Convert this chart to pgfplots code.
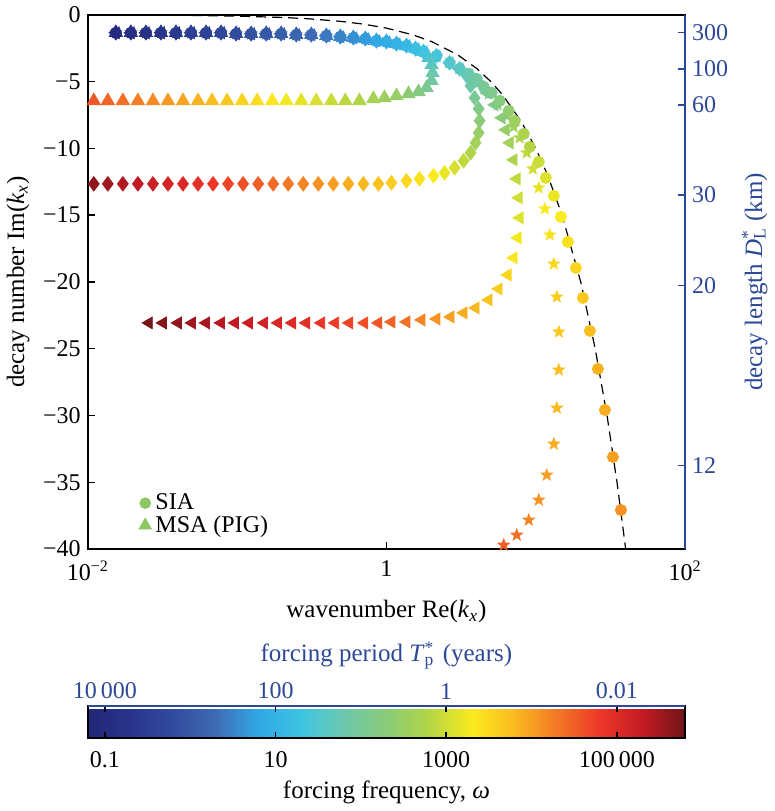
\documentclass[border=0pt]{standalone}
\usepackage{fontspec}
\setmainfont{Liberation Serif}
\usepackage{pgfplots}
\usepackage{pgfplotstable}
\pgfplotsset{compat=1.18}

\definecolor{axblue}{RGB}{45,72,150}
\definecolor{lgreen}{RGB}{140,200,100}

\pgfdeclareplotmark{fstar}{%
  \pgfpathmoveto{\pgfpointpolar{90}{\pgfplotmarksize}}%
  \pgfpathlineto{\pgfpointpolar{126}{0.42\pgfplotmarksize}}%
  \pgfpathlineto{\pgfpointpolar{162}{\pgfplotmarksize}}%
  \pgfpathlineto{\pgfpointpolar{198}{0.42\pgfplotmarksize}}%
  \pgfpathlineto{\pgfpointpolar{234}{\pgfplotmarksize}}%
  \pgfpathlineto{\pgfpointpolar{270}{0.42\pgfplotmarksize}}%
  \pgfpathlineto{\pgfpointpolar{306}{\pgfplotmarksize}}%
  \pgfpathlineto{\pgfpointpolar{342}{0.42\pgfplotmarksize}}%
  \pgfpathlineto{\pgfpointpolar{18}{\pgfplotmarksize}}%
  \pgfpathlineto{\pgfpointpolar{54}{0.42\pgfplotmarksize}}%
  \pgfpathclose
  \pgfusepathqfillstroke
}

\pgfplotsset{
  colormap={rsmap}{
    rgb255=(35,38,120) rgb255=(40,52,138) rgb255=(50,75,157) rgb255=(62,108,180)
    rgb255=(48,168,230) rgb255=(62,196,226) rgb255=(108,200,172) rgb255=(138,203,120)
    rgb255=(180,213,68) rgb255=(250,235,30) rgb255=(249,185,31) rgb255=(243,120,38)
    rgb255=(237,55,40) rgb255=(195,26,36) rgb255=(110,20,25)
  },
  sc/.style={scatter, only marks, point meta=explicit,
    scatter/use mapped color={draw=mapped color, fill=mapped color}, forget plot},
}

% shared low-frequency branch (all cases)
\pgfplotstableread{
x y c
0.015415 -1.348 -1.0
0.019434 -1.348 -0.9
0.024505 -1.348 -0.8
0.030903 -1.348 -0.7
0.038962 -1.348 -0.6
0.049118 -1.348 -0.5
0.061930 -1.348 -0.4
0.078088 -1.348 -0.3
0.098469 -1.423 -0.2
0.12417 -1.423 -0.1
0.15656 -1.423 0.0
0.19737 -1.423 0.1
0.24889 -1.498 0.2
0.31380 -1.498 0.3
0.39568 -1.573 0.4
0.49118 -1.648 0.5
0.60050 -1.723 0.6
0.72277 -1.798 0.7
0.85663 -1.948 0.8
1.0 -2.022 0.9
1.1674 -2.172 1.0
1.3621 -2.322 1.1
1.5656 -2.547 1.2
1.7713 -2.772 1.3
}\toprow

% MSA (PIG): up triangles
\pgfplotstableread{
x y c
1.9136 -3.221 1.45
2.0045 -3.745 1.6
2.0356 -4.345 1.75
2.0045 -4.944 1.9
1.8554 -5.468 2.05
1.6400 -5.768 2.2
1.4054 -5.918 2.35
1.1674 -6.067 2.45
0.96963 -6.217 2.55
0.81798 -6.292 2.65
0.65875 -6.442 2.75
0.53053 -6.442 2.85
0.42745 -6.442 2.95
0.33896 -6.442 3.05
0.26893 -6.442 3.15
0.21325 -6.442 3.25
0.17176 -6.442 3.35
0.13621 -6.442 3.45
0.10804 -6.442 3.55
0.085663 -6.442 3.65
0.067952 -6.442 3.75
0.054728 -6.442 3.85
0.043412 -6.442 3.95
0.034435 -6.442 4.05
0.027310 -6.442 4.15
0.021656 -6.442 4.25
0.017176 -6.442 4.35
0.013621 -6.442 4.45
0.010971 -6.442 4.55
}\tri

% diamonds
\pgfplotstableread{
x y c
2.1656 -3.071 1.4
2.6483 -3.596 1.5
3.0903 -4.045 1.6
3.4435 -4.569 1.7
3.6616 -5.318 1.85
3.8962 -6.217 2.0
4.1440 -7.041 2.15
4.2096 -7.940 2.3
4.1440 -8.839 2.45
3.9568 -9.588 2.6
3.6616 -10.337 2.75
3.2867 -10.936 2.9
2.8609 -11.461 3.05
2.4505 -11.835 3.2
2.0672 -12.060 3.3
1.6653 -12.285 3.4
1.3621 -12.434 3.5
1.0804 -12.584 3.6
0.88350 -12.659 3.7
0.70064 -12.659 3.8
0.55590 -12.659 3.9
0.44082 -12.659 4.0
0.34970 -12.659 4.1
0.27733 -12.659 4.2
0.21988 -12.659 4.3
0.17443 -12.659 4.4
0.13833 -12.659 4.5
0.10972 -12.659 4.6
0.087018 -12.659 4.7
0.069024 -12.659 4.8
0.054728 -12.659 4.9
0.043412 -12.659 5.0
0.034435 -12.659 5.1
0.027310 -12.659 5.2
0.021656 -12.659 5.3
0.017176 -12.659 5.4
0.013621 -12.659 5.5
0.010971 -12.659 5.6
}\dia

% left triangles
\pgfplotstableread{
x y c
2.1656 -3.071 1.4
2.6483 -3.596 1.5
3.0903 -4.045 1.6
3.5515 -4.494 1.7
4.1440 -5.094 1.85
4.6892 -5.843 2.0
5.3053 -6.742 2.15
5.9136 -7.715 2.3
6.2907 -8.614 2.45
6.6902 -9.588 2.6
7.1154 -10.861 2.75
7.4564 -12.285 2.9
7.6906 -13.708 3.0
7.8088 -15.206 3.1
7.5727 -16.704 3.25
7.1154 -18.202 3.35
6.4881 -19.476 3.5
5.6455 -20.524 3.6
4.8386 -21.348 3.7
3.9568 -21.948 3.8
3.2867 -22.322 3.9
2.6893 -22.622 4.0
2.1656 -22.772 4.1
1.7176 -22.846 4.2
1.3621 -22.996 4.35
1.0804 -22.996 4.45
0.88350 -23.071 4.55
0.71154 -23.071 4.62
0.56455 -23.071 4.70
0.45466 -23.071 4.77
0.36616 -23.071 4.85
0.29040 -23.071 4.92
0.23389 -23.071 5.00
0.18843 -23.071 5.07
0.15180 -23.071 5.15
0.12036 -23.071 5.22
0.096963 -23.071 5.30
0.078088 -23.071 5.37
0.061930 -23.071 5.45
0.049888 -23.071 5.52
0.040179 -23.071 5.60
0.031877 -23.071 5.67
0.025668 -23.071 5.75
}\ltri

% stars
\pgfplotstableread{
x y c
2.1656 -3.071 1.4
2.6483 -3.596 1.5
3.0903 -4.045 1.6
3.5515 -4.494 1.7
4.1440 -5.094 1.85
4.8386 -5.918 2.0
5.5590 -6.742 2.15
6.3887 -7.566 2.35
7.1154 -8.390 2.55
7.8088 -9.213 2.75
8.7018 -10.337 2.9
9.5480 -11.536 3.0
10.474 -12.959 3.15
11.492 -14.532 3.3
12.417 -16.479 3.4
13.207 -18.652 3.5
13.834 -21.124 3.6
14.269 -23.745 3.65
14.269 -26.592 3.75
13.834 -29.438 3.8
13.207 -32.135 3.9
11.853 -34.457 4.0
10.474 -36.330 4.1
8.9743 -37.828 4.2
7.4564 -38.951 4.35
6.0990 -39.700 4.5
}\str

% SIA circles
\pgfplotstableread{
x y c
2.1656 -3.071 1.4
2.6483 -3.596 1.5
3.0903 -4.045 1.6
3.5515 -4.419 1.75
4.0179 -4.794 1.9
4.4771 -5.393 2.0
5.0670 -5.843 2.1
5.7334 -6.442 2.25
6.5875 -7.191 2.4
7.2277 -7.940 2.55
8.3080 -8.914 2.7
9.1140 -9.888 2.8
10.474 -11.011 2.95
11.670 -12.210 3.1
13.207 -13.558 3.2
14.717 -15.131 3.3
16.400 -17.004 3.4
18.554 -18.951 3.5
20.672 -21.199 3.65
23.034 -23.670 3.75
26.077 -26.517 3.85
29.045 -29.588 3.9
32.867 -33.109 4.0
37.201 -37.079 4.1
}\sia

% asymptote Im = -Re
\pgfplotstableread{
x y
0.05 -0.05
0.1 -0.1
0.2 -0.2
0.3 -0.3
0.5 -0.5
0.7 -0.7
1 -1
1.5 -1.5
2 -2
3 -3
4 -4
5 -5
6 -6
8 -8
10 -10
12 -12
15 -15
20 -20
25 -25
30 -30
35 -35
40 -40
42 -42
}\asym

\pgfplotsset{
  every axis/.append style={font=\fontsize{12.5}{15}\selectfont},
  every tick label/.append style={font=\fontsize{12}{14}\selectfont},
}

\begin{document}
\begin{tikzpicture}
\begin{axis}[
  name=main,
  at={(0,0)}, anchor=south west,
  scale only axis, width=298.5pt, height=267pt,
  xmode=log, xmin=0.01, xmax=100, ymin=-40, ymax=0,
  xtick={0.01,1,100},
  xticklabels={10\textsuperscript{−2},1,10\textsuperscript{2}},
  minor xtick={},
  ytick={-40,-35,-30,-25,-20,-15,-10,-5,0},
  yticklabels={−40,−35,−30,−25,−20,−15,−10,−5,0},
  xtick pos=bottom, ytick pos=left,
  tick align=inside, major tick length=3.5pt,
  tick style={black, line width=0.7pt},
  axis line style={line width=0.8pt},
  xticklabel shift=2.5pt,
  xlabel={wavenumber Re(\textit{k}\textsubscript{\textit{x}})},
  xlabel shift=3pt,
  ylabel={decay number Im(\textit{k}\textsubscript{\textit{x}})},
  colormap name=rsmap,
  point meta min=-1.2, point meta max=5.8,
  colorbar horizontal,
  colorbar style={
    name=cbar,
    at={(parent axis.south west)}, anchor=north west, yshift=-70pt,
    scale only axis, width=298.5pt, height=16pt,
    xtick={-1,1,3,5}, xticklabels={0.1,10,1000,100\,000},
    xtick pos=both, xticklabel pos=left,
    tick align=inside, major tick length=3pt,
    tick style={black, line width=0.7pt},
    axis line style={line width=0.8pt},
    xticklabel shift=3pt,
    xlabel={forcing frequency, \textit{ω}},
    font=\fontsize{12.5}{15}\selectfont,
  },
  legend style={at={(0.075,0.01)}, anchor=south west, draw=none, fill=none,
    font=\fontsize{12}{14}\selectfont, row sep=-2.5pt},
  legend cell align=left,
]
\addplot[black, dashed, dash pattern=on 5pt off 3pt, line width=0.6pt, forget plot] table[x=x,y=y]{\asym};

\addplot[sc, mark=fstar, mark size=3pt] table[x=x,y=y,meta=c]{\toprow};
\addplot[sc, mark=fstar, mark size=3pt] table[x=x,y=y,meta=c]{\str};
\addplot[sc, mark=triangle*, mark size=3.4pt, mark options={rotate=90}] table[x=x,y=y,meta=c]{\toprow};
\addplot[sc, mark=triangle*, mark size=3.4pt, mark options={rotate=90}] table[x=x,y=y,meta=c]{\ltri};
\addplot[sc, mark=diamond*, mark size=3.6pt] table[x=x,y=y,meta=c]{\toprow};
\addplot[sc, mark=diamond*, mark size=3.6pt] table[x=x,y=y,meta=c]{\dia};
\addplot[sc, mark=*, mark size=2.8pt] table[x=x,y=y,meta=c]{\toprow};
\addplot[sc, mark=*, mark size=2.8pt] table[x=x,y=y,meta=c]{\sia};
\addplot[sc, mark=triangle*, mark size=3.8pt] table[x=x,y=y,meta=c]{\toprow};
\addplot[sc, mark=triangle*, mark size=3.8pt] table[x=x,y=y,meta=c]{\tri};

\addlegendimage{only marks, mark=*, mark size=2.7pt, lgreen}
\addlegendentry{SIA}
\addlegendimage{only marks, mark=triangle*, mark size=3.6pt, lgreen}
\addlegendentry{MSA (PIG)}
\end{axis}

% right-hand decay-length axis
\begin{axis}[
  at={(0,0)}, anchor=south west,
  scale only axis, width=298.5pt, height=267pt,
  xmode=log, xmin=0.01, xmax=100, ymin=-40, ymax=0,
  axis x line=none, axis y line*=right,
  y axis line style={axblue, line width=0.8pt},
  ytick={-33.75,-20.25,-13.5,-6.75,-4.05,-1.35},
  yticklabels={12,20,30,60,100,300},
  tick align=inside, major tick length=3.5pt,
  ytick style={axblue, line width=0.7pt},
  yticklabel style={axblue},
  ylabel={decay length \textit{D}\rlap{\textsuperscript{*}}\textsubscript{L} (km)},
  ylabel style={axblue},
]
\end{axis}

% forcing period labels above the colour bar
\begin{axis}[
  at={(cbar.north west)}, anchor=north west,
  scale only axis, width=298.5pt, height=16pt,
  xmin=-1.2, xmax=5.8, ymin=0, ymax=1,
  axis x line*=top, axis y line=none,
  x axis line style={axblue, line width=0.8pt},
  xtick={-1,1,3,5}, xticklabels={10\,000,100,1,0.01},
  major tick length=0pt,
  xticklabel style={axblue},
  xlabel={forcing period \textit{T}\rlap{\textsuperscript{*}}\textsubscript{p}\,\,(years)},
  xlabel style={axblue},
]
\end{axis}
\end{tikzpicture}
\end{document}
